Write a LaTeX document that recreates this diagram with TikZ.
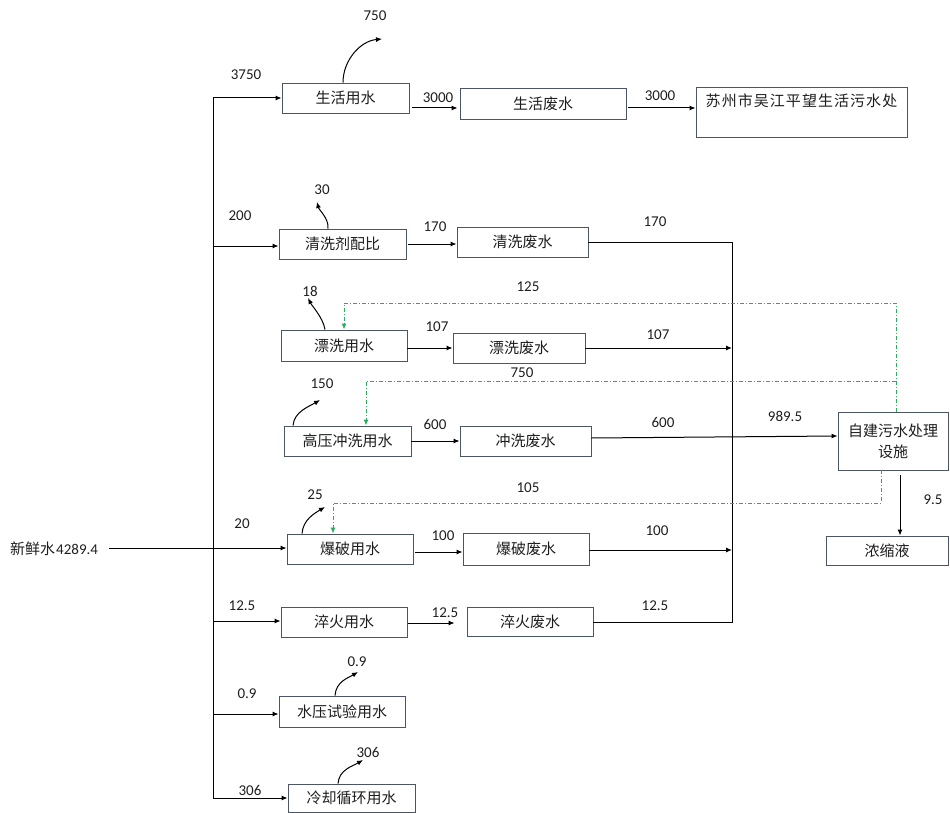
\documentclass[tikz,border=0pt]{standalone}
\usepackage{fontspec}
\setmainfont{Carlito}
\newfontfamily\cjk{Noto Sans CJK SC}
\newfontfamily\cjkwide[LetterSpace=7]{Noto Sans CJK SC}
\usetikzlibrary{arrows.meta,calc}
\definecolor{boxc}{RGB}{75,85,100}
\definecolor{grn}{RGB}{45,170,100}
\definecolor{txt}{RGB}{30,30,30}
\begin{document}
\begin{tikzpicture}[x=1pt,y=-1pt,
  box/.style={draw=boxc,line width=0.9pt,inner sep=0pt,font=\cjk\fontsize{15}{21}\selectfont,text=txt,align=center},
  num/.style={font=\fontsize{15}{18}\selectfont,text=txt,inner sep=0pt},
  arr/.style={line width=1pt,-{Latex[length=6pt,width=5pt]}},
  ln/.style={line width=1pt},
  rec/.style={grn,line width=1pt,dash pattern=on 4pt off 2pt on 1pt off 2pt,-{Latex[length=6pt,width=5pt]}},
]
\useasboundingbox (0,0) rectangle (950,813);

% boxes
\node[box,minimum width=127pt,minimum height=30pt] (sh) at (345.5,98) {生活用水};
\node[box,minimum width=166pt,minimum height=31pt] (shf) at (543,103.5) {生活废水};
\node[box,minimum width=211pt,minimum height=50pt] (sz) at (801.5,112) {{\cjkwide 苏州市吴江平望生活污水处}\\[2pt]\mbox{}};
\node[box,minimum width=127pt,minimum height=30pt] (qxj) at (342.5,244) {清洗剂配比};
\node[box,minimum width=131pt,minimum height=30pt] (qxf) at (522.5,242) {清洗废水};
\node[box,minimum width=126pt,minimum height=31pt] (pxy) at (344,345.5) {漂洗用水};
\node[box,minimum width=132pt,minimum height=30pt] (pxf) at (519,348) {漂洗废水};
\node[box,minimum width=127pt,minimum height=30pt] (gy) at (347.5,441) {高压冲洗用水};
\node[box,minimum width=131pt,minimum height=30pt] (cxf) at (525.5,441) {冲洗废水};
\node[box,minimum width=110pt,minimum height=58pt] (zj) at (893,441) {自建污水处理\\设施};
\node[box,minimum width=122pt,minimum height=29pt] (nsy) at (887,550.5) {浓缩液};
\node[box,minimum width=126pt,minimum height=30pt] (bpy) at (350,549) {爆破用水};
\node[box,minimum width=126pt,minimum height=32pt] (bpf) at (526,549) {爆破废水};
\node[box,minimum width=126pt,minimum height=30pt] (cy) at (344,622) {淬火用水};
\node[box,minimum width=126pt,minimum height=29pt] (cf) at (530,621.5) {淬火废水};
\node[box,minimum width=126pt,minimum height=31pt] (sy) at (342,711.5) {水压试验用水};
\node[box,minimum width=127pt,minimum height=28pt] (lq) at (351.5,798) {冷却循环用水};

\node[num,anchor=west] (src) at (10,549) {{\cjk 新鲜水}\hspace{1pt}4289.4};

% trunk
\coordinate (ttop) at (213,98);
\coordinate (tbot) at (213,798);
\coordinate (j2) at (213,246);
\coordinate (j6) at (213,621);
\coordinate (j7) at (213,714);
\draw[ln] (ttop) -- (tbot);
\draw[arr] (ttop) -- (sh.west);
\draw[arr] (j2) -- (qxj.west |- j2);
\draw[arr,shorten <=11pt] (src.east |- 0,548) -- (bpy.west |- 0,548);
\draw[arr] (j6) -- (cy.west |- j6);
\draw[arr] (j7) -- (sy.west |- j7);
\draw[arr] (tbot) -- (lq.west);

% horizontal flows
\draw[arr,shorten <=3pt,shorten >=2pt] (sh.east |- 0,108) -- (shf.west |- 0,108);
\draw[arr,shorten <=2pt] (shf.east |- 0,108) -- (sz.west |- 0,108);
\draw[arr,shorten <=2pt] (qxj.east |- 0,244) -- (qxf.west |- 0,244);
\coordinate (c1) at (732,242);
\coordinate (c2) at (732,622);
\draw[ln] (qxf.east) -- (c1) -- (c2) -- (cf.east |- c2);
\draw[arr] (pxy.east |- 0,348) -- (pxf.west |- 0,348);
\draw[arr] (pxf.east) -- (c1 |- pxf.east);
\draw[arr] (gy.east) -- (cxf.west);
\draw[arr] (cxf.east |- 0,438) -- (zj.west |- 0,436);
\draw[arr,shorten <=2pt] (bpy.east |- 0,552) -- (bpf.west |- 0,552);
\draw[arr] (bpf.east |- 0,550) -- (c1 |- 0,550);
\draw[arr,shorten <=1pt,shorten >=12pt] (cy.east |- 0,623) -- (cf.west |- 0,623);
\coordinate (n1) at (900,0);
\draw[arr] ($(zj.south)+(7,5)$) -- (nsy.north -| n1);

% recycle lines
\coordinate (g1) at (896,303);
\coordinate (g2) at (896,381);
\coordinate (g2l) at (366,381);
\coordinate (g3) at (881,503);
\coordinate (g3l) at (333,503);
\draw[rec] (zj.north -| g1) -- (g1) -- (pxy.north |- g1) -- (pxy.north);
\draw[rec] (g2) -- (g2l) -- (gy.north -| g2l);
\draw[rec] (zj.south -| g3) -- (g3) -- (g3l) -- (bpy.north -| g3l);

% loss arrows
\coordinate (e1) at (382,39);
\coordinate (e2) at (317,202);
\coordinate (e3) at (308,298);
\coordinate (e4) at (320,400);
\coordinate (e5) at (325,507);
\coordinate (e6) at (358,672);
\coordinate (e7) at (363,760);
\draw[arr] ($(sh.north)+(-2.5,0)$) .. controls +(0,-22) and +(-22,2) .. (e1);
\draw[arr] ($(qxj.north)+(-14.5,0)$) .. controls +(1,-10) and +(2,8) .. (e2);
\draw[arr] ($(pxy.north)+(-19,0)$) .. controls +(-2,-12) and +(4,8) .. (e3);
\draw[arr] ($(gy.north)+(-54.5,0)$) .. controls +(1,-14) and +(-10,6) .. (e4);
\draw[arr] ($(bpy.north)+(-48,0)$) .. controls +(1,-14) and +(-10,6) .. (e5);
\draw[arr] ($(sy.north)+(-7,0)$) .. controls +(1,-14) and +(-10,6) .. (e6);
\draw[arr] ($(lq.north)+(-13.5,0)$) .. controls +(1,-14) and +(-10,6) .. (e7);

% labels
\node[num] (l1) at (375,16) {750};
\node[num] (l2) at (246,75) {3750};
\node[num] (l3) at (438,98) {3000};
\node[num] (l4) at (660,96) {3000};
\node[num] (l5) at (322,190) {30};
\node[num] (l6) at (240,216) {200};
\node[num] (l7) at (435,227) {170};
\node[num] (l8) at (655,222) {170};
\node[num] (l9) at (310,291) {18};
\node[num] (l10) at (528,287) {125};
\node[num] (l11) at (437,327) {107};
\node[num] (l12) at (658,335) {107};
\node[num] (l13) at (522,373) {750};
\node[num] (l14) at (322,384) {150};
\node[num] (l15) at (435,424) {600};
\node[num] (l16) at (663,422) {600};
\node[num] (l17) at (785,416) {989.5};
\node[num] (l18) at (933,500) {9.5};
\node[num] (l19) at (528,488) {105};
\node[num] (l20) at (315,495) {25};
\node[num] (l21) at (242,524) {20};
\node[num] (l22) at (443,536) {100};
\node[num] (l23) at (657,531) {100};
\node[num] (l24) at (242,606) {12.5};
\node[num] (l25) at (445,613) {12.5};
\node[num] (l26) at (655,606) {12.5};
\node[num] (l27) at (357,662) {0.9};
\node[num] (l28) at (247,694) {0.9};
\node[num] (l29) at (368,752) {306};
\node[num] (l30) at (250,790) {306};
\end{tikzpicture}
\end{document}
